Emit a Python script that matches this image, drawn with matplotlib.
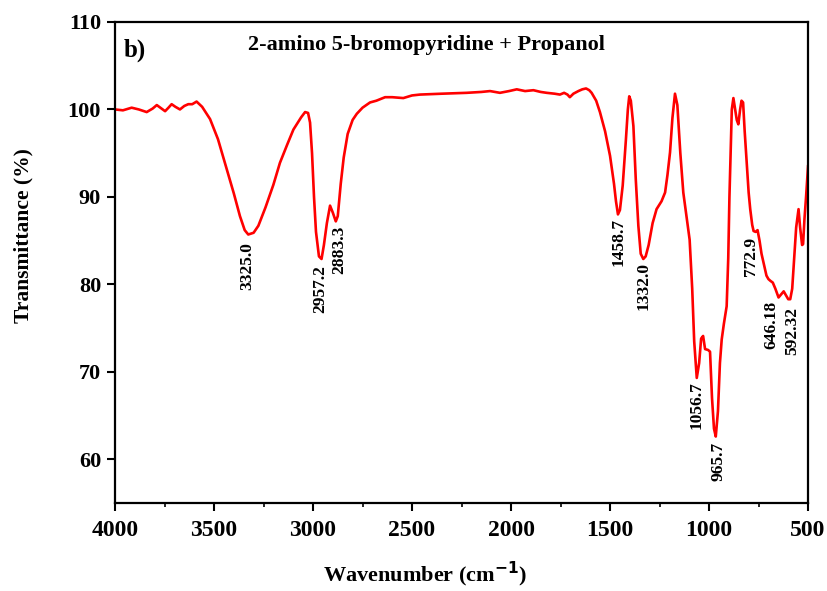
import numpy as np
import matplotlib
matplotlib.use("Agg")
import matplotlib.pyplot as plt
from matplotlib.ticker import MultipleLocator

plt.rcParams["font.family"] = ["Liberation Serif", "DejaVu Serif"]
plt.rcParams["font.weight"] = "bold"
plt.rcParams["mathtext.fontset"] = "custom"
plt.rcParams["mathtext.rm"] = "Liberation Serif:bold"

# spectrum (wavenumber, transmittance)
wavenumber = [
    4000, 3960, 3916, 3880, 3840, 3810, 3789, 3765, 3747, 3730, 3714, 3695,
    3672, 3650, 3630, 3610, 3588, 3560, 3520, 3480, 3436, 3400, 3369, 3345,
    3327, 3300, 3276, 3240, 3200, 3167, 3130, 3099, 3060, 3040, 3025, 3015,
    3005, 2995, 2985, 2970, 2957, 2945, 2930, 2914, 2900, 2885, 2875, 2860,
    2845, 2825, 2800, 2779, 2750, 2712, 2680, 2636, 2600, 2544, 2500, 2460,
    2350, 2224, 2150, 2106, 2080, 2056, 2010, 1971, 1950, 1929, 1887, 1850,
    1820, 1780, 1753, 1732, 1715, 1703, 1685, 1660, 1640, 1621, 1605, 1593,
    1570, 1551, 1525, 1500, 1480, 1470, 1460, 1450, 1436, 1420, 1410, 1403,
    1395, 1382, 1370, 1357, 1345, 1332, 1320, 1305, 1285, 1265, 1240, 1222,
    1210, 1197, 1185, 1172, 1160, 1145, 1130, 1115, 1098, 1085, 1075, 1062,
    1050, 1040, 1030, 1020, 1005, 995, 985, 975, 966, 955, 945, 936,
    925, 911, 903, 897, 890, 885, 877, 868, 860, 852, 843, 836,
    828, 820, 810, 800, 792, 782, 775, 765, 755, 745, 735, 720,
    710, 700, 690, 678, 665, 649, 638, 623, 610, 600, 590, 580,
    570, 560, 548, 540, 530, 525, 518, 510, 500,
]
transmittance = [
    100.0, 99.9, 100.2, 100.0, 99.7, 100.1, 100.5, 100.1, 99.8, 100.2, 100.6, 100.3,
    100.0, 100.4, 100.6, 100.6, 100.9, 100.3, 98.9, 96.6, 93.2, 90.4, 87.8, 86.2,
    85.7, 85.9, 86.7, 88.8, 91.4, 93.9, 96.0, 97.7, 99.1, 99.7, 99.6, 98.5,
    95.0, 90.0, 86.0, 83.2, 82.9, 84.5, 87.0, 89.0, 88.2, 87.2, 87.8, 91.5,
    94.5, 97.2, 98.8, 99.5, 100.2, 100.8, 101.0, 101.4, 101.4, 101.3, 101.6, 101.7,
    101.8, 101.9, 102.0, 102.1, 102.0, 101.9, 102.1, 102.3, 102.2, 102.1, 102.2, 102.0,
    101.9, 101.8, 101.7, 101.9, 101.7, 101.4, 101.8, 102.1, 102.3, 102.4, 102.2, 101.9,
    101.0, 99.7, 97.5, 94.7, 91.5, 89.5, 88.0, 88.5, 91.3, 96.5, 100.0, 101.5,
    101.0, 98.1, 92.0, 86.7, 83.5, 82.9, 83.2, 84.5, 87.0, 88.6, 89.5, 90.5,
    92.5, 95.1, 99.0, 101.8, 100.5, 95.0, 90.5, 88.0, 85.1, 79.5, 73.5, 69.3,
    71.0, 73.8, 74.1, 72.6, 72.5, 72.3, 67.0, 63.5, 62.6, 65.5, 71.0, 73.7,
    75.5, 77.5, 83.0, 90.0, 96.0, 100.0, 101.3, 100.0, 98.8, 98.3, 100.0, 101.0,
    100.8, 97.5, 94.0, 90.5, 88.6, 86.8, 86.1, 86.0, 86.2, 85.0, 83.5, 82.0,
    81.0, 80.6, 80.4, 80.2, 79.5, 78.5, 78.8, 79.2, 78.7, 78.3, 78.3, 79.5,
    83.0, 86.5, 88.6, 86.5, 84.5, 84.6, 87.5, 90.0, 93.5,
]

# peak annotations: text, x position, top of text
peak_labels = ["3325.0", "2957.2", "2883.3", "1458.7", "1332.0",
               "1056.7", "965.7", "772.9", "646.18", "592.32"]
peak_x = [3332, 2965, 2869, 1458, 1332, 1062, 953, 789, 684, 582]
peak_top = [84.8, 82.2, 86.7, 87.6, 82.5, 68.9, 62.0, 85.4, 78.1, 77.4]

fig = plt.figure(figsize=(8.28, 5.91), dpi=100)
ax = fig.add_axes([0.1389, 0.1489, 0.8370, 0.8139])

ax.plot(wavenumber, transmittance, color="red", lw=1.9)

for t, x, y in zip(peak_labels, peak_x, peak_top):
    ax.text(x, y, t, rotation=90, ha="center", va="top", fontsize=12.5,
            fontweight="bold")

ax.set_xlim(4000, 500)
ax.set_ylim(55, 110)
ax.xaxis.set_major_locator(MultipleLocator(500))
ax.xaxis.set_minor_locator(MultipleLocator(250))
ax.set_yticks([60, 70, 80, 90, 100, 110])

for s in ax.spines.values():
    s.set_linewidth(1.6)
ax.tick_params(axis="both", which="major", direction="out", width=1.5, length=6)
ax.tick_params(axis="x", which="minor", direction="out", width=1.2, length=3)
ax.tick_params(axis="x", labelsize=17, pad=6)
ax.tick_params(axis="y", labelsize=16, pad=4)
for lab in ax.get_xticklabels() + ax.get_yticklabels():
    lab.set_fontweight("bold")

ax.set_xlabel(r"Wavenumber (cm$^{\mathbf{-1}}$)", fontsize=16, fontweight="bold")
ax.xaxis.set_label_coords(0.447, -0.119)
ax.set_ylabel("Transmittance (%)", fontsize=15.5, fontweight="bold")
ax.yaxis.set_label_coords(-0.118, 0.557)

ax.text(0.013, 0.942, "b)", transform=ax.transAxes, fontsize=18,
        fontweight="bold", va="center", ha="left")
ax.text(0.449, 0.952, "2-amino 5-bromopyridine + Propanol", transform=ax.transAxes,
        fontsize=16, fontweight="bold", va="center", ha="center")

fig.savefig("out.png", dpi=100)
